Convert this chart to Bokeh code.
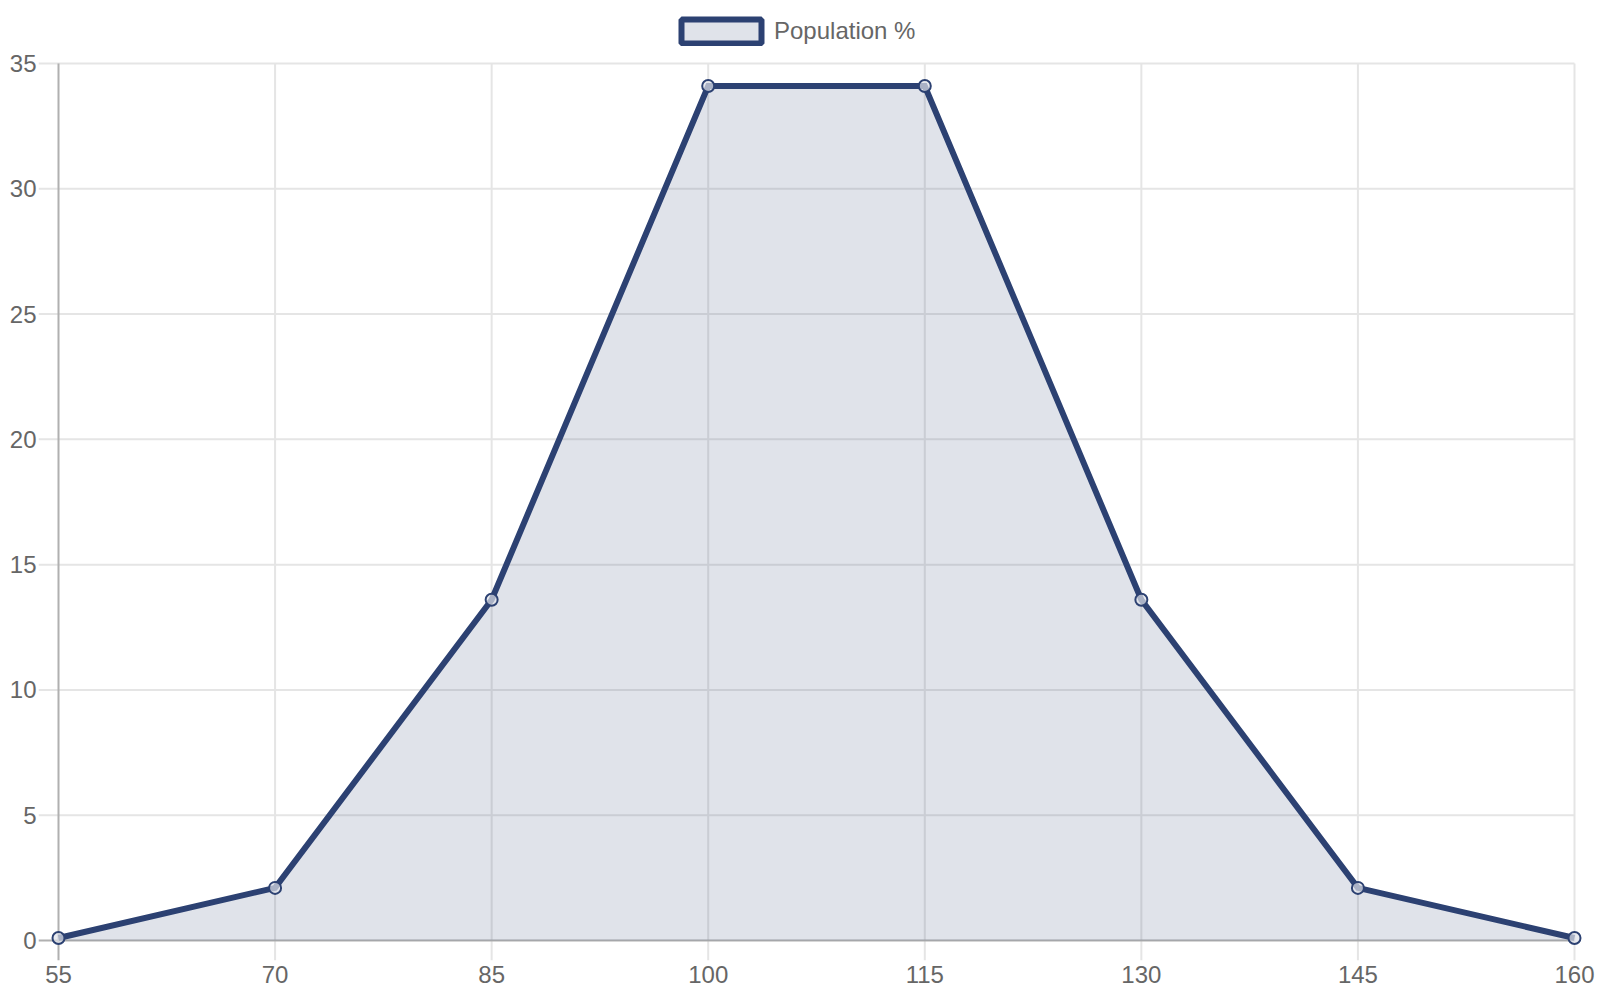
from bokeh.plotting import figure
from bokeh.models import Range1d, FixedTicker, Legend, LegendItem
from bokeh.embed import file_html
from bokeh.resources import INLINE

iq_scores = [55, 70, 85, 100, 115, 130, 145, 160]
population_pct = [0.1, 2.1, 13.6, 34.1, 34.1, 13.6, 2.1, 0.1]
series_label = "Population %"
y_ticks = [0, 5, 10, 15, 20, 25, 30, 35]

LINE = "#2c4172"
FONT = "Liberation Sans"
TEXT = "#666666"
GRID = "#e5e5e5"
AXIS = "#b0b0b0"

W, H = 1596, 992
FL, FR, FT, FB = 38, 1583, 0, 960          # frame edges on the canvas (px)
X0_PX, X1_PX = 58.0, 1574.0                 # where the first / last category sit
Y0_PX, Y1_PX = 940.0, 63.0                  # where y=0 / y=35 sit

xmin, xmax = iq_scores[0], iq_scores[-1]
ymin, ymax = y_ticks[0], y_ticks[-1]
pxx = (X1_PX - X0_PX) / (xmax - xmin)
pxy = (Y0_PX - Y1_PX) / (ymax - ymin)
x_lo = xmin - (X0_PX - FL) / pxx
x_hi = xmax + (FR - X1_PX) / pxx
y_lo = ymin - (FB - Y0_PX) / pxy
y_hi = ymax + (Y1_PX - FT) / pxy

p = figure(width=W, height=H, output_backend="svg", toolbar_location=None,
           x_range=Range1d(x_lo, x_hi), y_range=Range1d(y_lo, y_hi),
           min_border_left=FL, min_border_right=W - FR, min_border_top=FT, min_border_bottom=H - FB)
p.outline_line_color = None
p.background_fill_color = "white"
p.xgrid.visible = False
p.ygrid.visible = False

# grid lines + outward ticks (Chart.js style)
hy = y_ticks[1:]
p.segment(x0=[x_lo] * len(hy), y0=hy, x1=[xmax] * len(hy), y1=hy, line_color=GRID, line_width=2)
vx = iq_scores[1:]
p.segment(x0=vx, y0=[y_lo] * len(vx), x1=vx, y1=[ymax] * len(vx), line_color=GRID, line_width=2)
# zero lines / axis lines
p.segment(x0=[x_lo, xmin], y0=[ymin, y_lo], x1=[xmax, xmin], y1=[ymin, ymax], line_color=AXIS, line_width=2)

p.varea(x=iq_scores, y1=[0] * len(iq_scores), y2=population_pct, fill_color=LINE, fill_alpha=0.15)
p.line(iq_scores, population_pct, line_color=LINE, line_width=6, line_join="miter")
p.scatter(iq_scores, population_pct, marker="circle", size=12, fill_color="#dfe3ea", fill_alpha=0.7,
          line_color=LINE, line_width=2)

nan = float("nan")
legend_swatch = p.rect(x=[nan], y=[nan], width=1, height=1, fill_color=LINE, fill_alpha=0.15,
                       line_color=LINE, line_width=6)

p.xaxis.ticker = FixedTicker(ticks=iq_scores)
p.yaxis.ticker = FixedTicker(ticks=y_ticks)
for ax in (p.xaxis, p.yaxis):
    ax.axis_line_color = None
    ax.major_tick_line_color = None
    ax.minor_tick_line_color = None
    ax.major_tick_out = 0
    ax.major_tick_in = 0
    ax.minor_tick_out = 0
    ax.minor_tick_in = 0
    ax.major_label_text_font = FONT
    ax.major_label_text_font_size = "24px"
    ax.major_label_text_color = TEXT
p.xaxis.major_label_standoff = 5
p.yaxis.major_label_standoff = 2

# legend: glyph area left/top on canvas = (673, 17)
legend = Legend(items=[LegendItem(label=series_label, renderers=[legend_swatch])],
                location=(671 - FL, FB - 16 - 30), orientation="horizontal",
                glyph_width=100, glyph_height=30, label_height=30,
                padding=0, margin=0, border_line_color=None, background_fill_alpha=0,
                label_text_font=FONT, label_text_font_size="24px", label_text_color=TEXT,
                label_standoff=3)
p.add_layout(legend, "center")

open("out.html", "w").write(file_html(p, INLINE))
